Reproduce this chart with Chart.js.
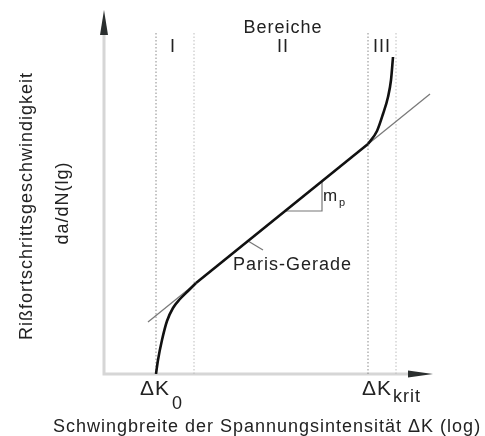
<!DOCTYPE html>
<html>
<head>
<meta charset="utf-8">
<script src="https://cdn.jsdelivr.net/npm/chart.js@4"></script>
<style>
  body { margin: 0; background: #fff; }
</style>
</head>
<body>
<canvas id="paris" width="485" height="436"></canvas>
<script>
// schematic units: x = log dK, y = log da/dN (both arbitrary)
const curveX = [52, 54, 58, 63, 69, 76, 84, 92, 264, 273, 279, 284, 287, 289];
const curveY = [0, 14, 34, 53, 66, 75, 83, 91, 230, 243, 260, 277, 294, 317];
const parisX = [44, 326];
const parisY = [52, 280];
const regionBounds = [52, 90, 264, 292]; // dotted lines: dK0, end I, dKkrit, end III
const regionTop = 341;
const slopeX = [181, 218, 218];
const slopeY = [163, 163, 193];
const leaderX = [144, 159];
const leaderY = [133, 124];

const toPts = (xs, ys) => xs.map((x, i) => ({ x: x, y: ys[i] }));
const curvePts = toPts(curveX, curveY);
const kneeLow = curveX.indexOf(92);
const kneeHigh = curveX.indexOf(264);

const boundDatasets = regionBounds.map((b, i) => ({
  data: [{ x: b, y: 0 }, { x: b, y: regionTop }],
  borderColor: i % 2 === 0 ? "#8a8a8a" : "#bdbdbd",
  borderWidth: 1,
  borderDash: [1.5, 2],
  order: 3,
}));

const curveStyle = {
  borderColor: "#111",
  borderWidth: 2.6,
  cubicInterpolationMode: "monotone",
  order: 0,
};

const FONT = "Liberation Sans, Arial, sans-serif";

const drawText = (ctx, txt, x, y, size, align) => {
  ctx.font = size + "px " + FONT;
  ctx.textAlign = align || "center";
  ctx.textBaseline = "middle";
  ctx.fillText(txt, x, y);
};

const decor = {
  id: "decor",
  beforeDatasetsDraw(chart) {
    const ctx = chart.ctx;
    const a = chart.chartArea;
    ctx.save();
    // axes
    ctx.strokeStyle = "#d6d6d6";
    ctx.lineWidth = 3;
    ctx.beginPath();
    ctx.moveTo(a.left, a.top + 20);
    ctx.lineTo(a.left, a.bottom);
    ctx.lineTo(a.right - 20, a.bottom);
    ctx.stroke();
    // arrow heads
    ctx.fillStyle = "#2b2f2f";
    ctx.beginPath();
    ctx.moveTo(a.left, a.top - 3);
    ctx.lineTo(a.left - 4, a.top + 22);
    ctx.lineTo(a.left + 4, a.top + 22);
    ctx.closePath();
    ctx.fill();
    ctx.beginPath();
    ctx.moveTo(a.right + 1, a.bottom);
    ctx.lineTo(a.right - 24, a.bottom - 3.5);
    ctx.lineTo(a.right - 24, a.bottom + 3.5);
    ctx.closePath();
    ctx.fill();
    ctx.restore();
  },
  afterDraw(chart) {
    const ctx = chart.ctx;
    const xs = chart.scales.x;
    ctx.save();
    ctx.fillStyle = "#222";
    ctx.letterSpacing = "1px";
    drawText(ctx, "Bereiche", 283, 28, 18);
    drawText(ctx, "I", 173, 47, 18);
    drawText(ctx, "II", 283, 47, 18);
    drawText(ctx, "III", 382, 47, 18);
    drawText(ctx, "Paris-Gerade", 233, 265, 18, "left");
    drawText(ctx, "m", 323, 196, 17, "left");
    drawText(ctx, "p", 339, 203, 11, "left");

    const k0 = xs.getPixelForValue(regionBounds[0]);
    const kk = xs.getPixelForValue(regionBounds[2]);
    drawText(ctx, "\u0394K", k0 - 16, 389, 21, "left");
    drawText(ctx, "0", k0 + 16, 404, 18, "left");
    drawText(ctx, "\u0394K", kk - 6, 389, 21, "left");
    drawText(ctx, "krit", kk + 25, 397, 18, "left");

    drawText(ctx, "Schwingbreite der Spannungsintensit\u00e4t \u0394K (log)", 267, 427, 18);

    ctx.translate(27, 206);
    ctx.rotate(-Math.PI / 2);
    drawText(ctx, "Ri\u00dffortschrittsgeschwindigkeit", 0, 0, 18);
    drawText(ctx, "da/dN(lg)", 3, 36, 18);
    ctx.restore();
  },
};

new Chart(document.getElementById("paris"), {
  type: "scatter",
  data: {
    datasets: [
      ...boundDatasets,
      { data: toPts(parisX, parisY), borderColor: "#7a7a7a", borderWidth: 1.3, order: 2 },
      { data: toPts(slopeX, slopeY), borderColor: "#777", borderWidth: 1.2, order: 2 },
      { data: toPts(leaderX, leaderY), borderColor: "#777", borderWidth: 1.2, order: 2 },
      // threshold bend, Paris range, unstable growth
      Object.assign({ data: curvePts.slice(0, kneeLow + 1) }, curveStyle),
      Object.assign({ data: curvePts.slice(kneeLow, kneeHigh + 1) }, curveStyle),
      Object.assign({ data: curvePts.slice(kneeHigh) }, curveStyle),
    ].map(d => Object.assign({ showLine: true, fill: false, pointRadius: 0 }, d)),
  },
  options: {
    responsive: false,
    animation: false,
    layout: { padding: { left: 104, top: 13, right: 53, bottom: 62 } },
    plugins: { legend: { display: false }, tooltip: { enabled: false } },
    scales: {
      x: { type: "linear", min: 0, max: 328, display: false },
      y: { type: "linear", min: 0, max: 361, display: false },
    },
  },
  plugins: [decor],
});
</script>
</body>
</html>
